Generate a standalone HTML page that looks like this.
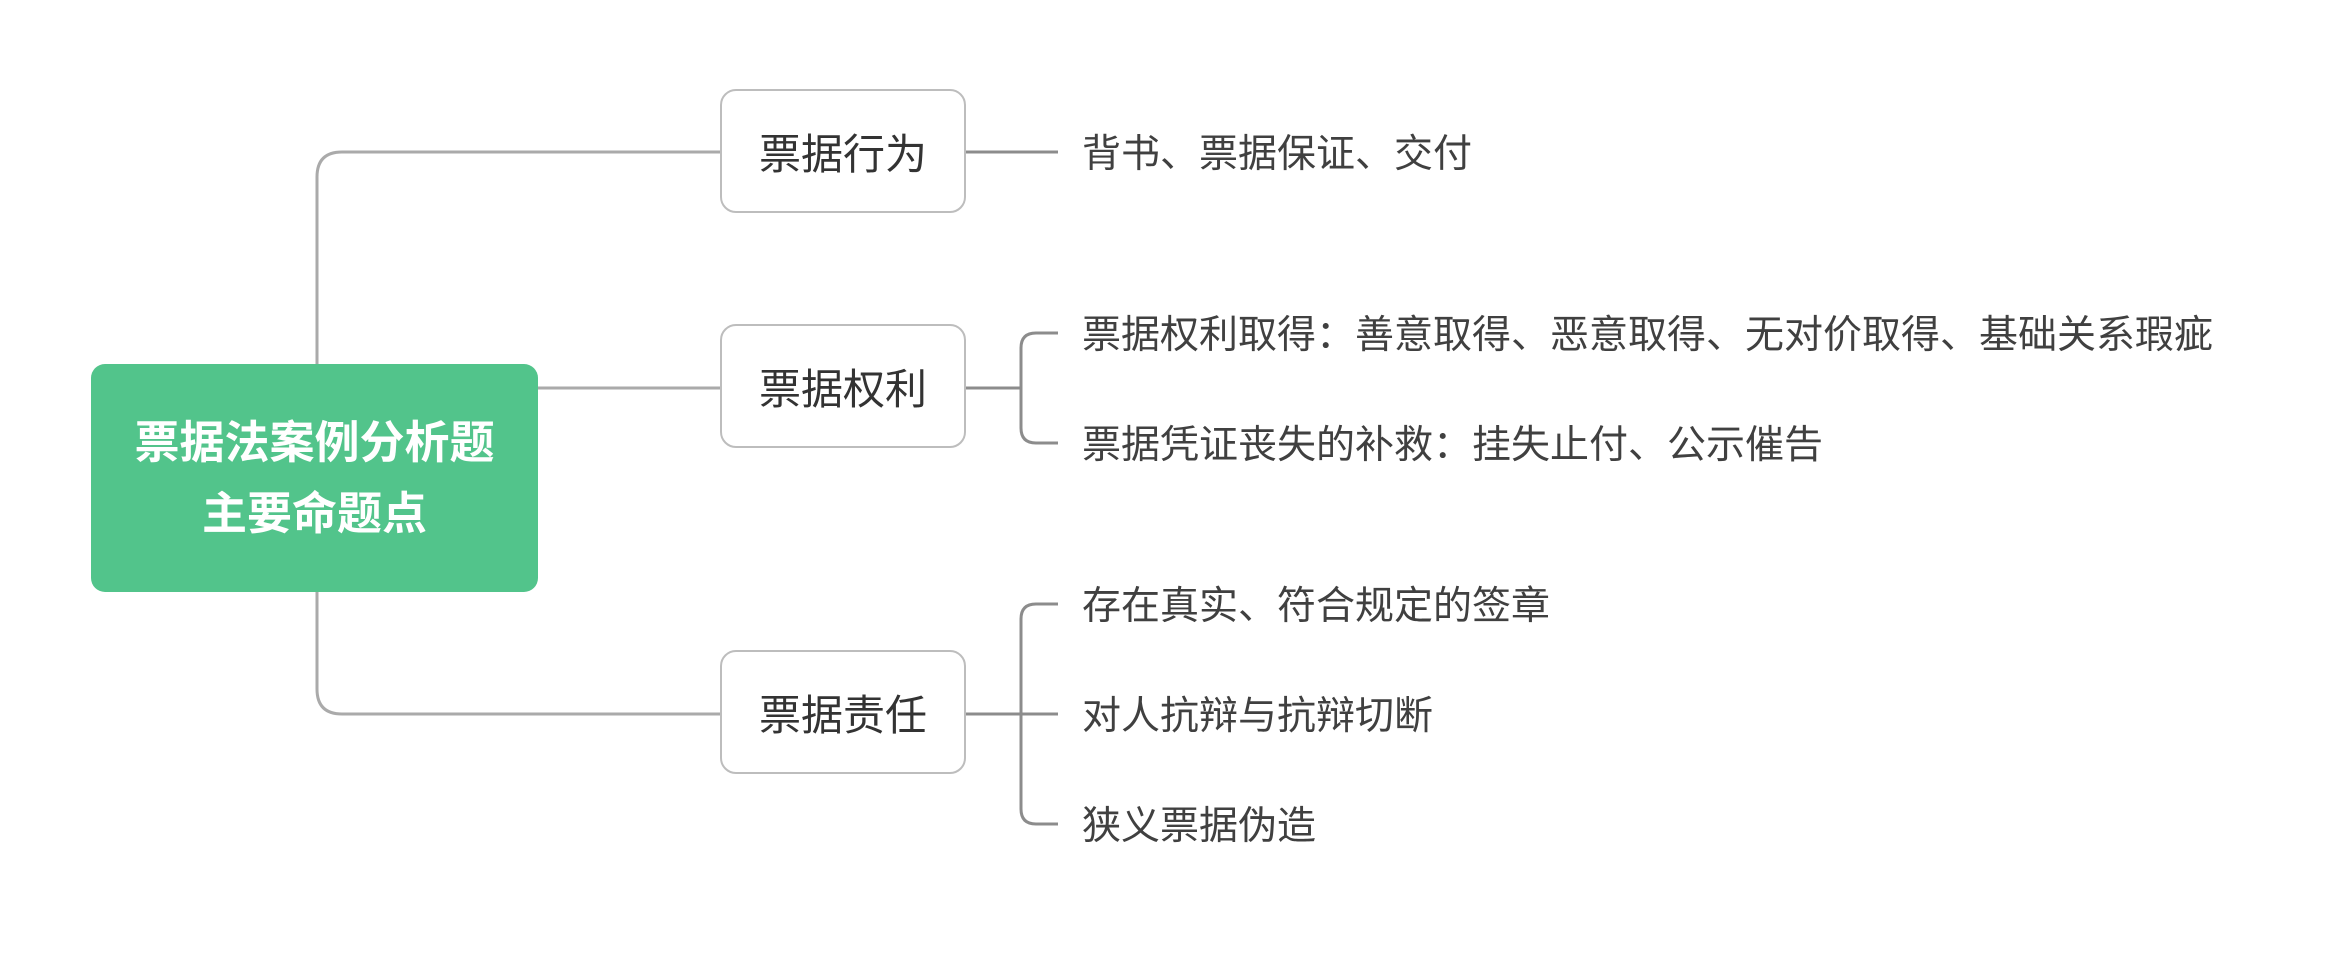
<!DOCTYPE html>
<html><head><meta charset="utf-8"><style>
html,body{margin:0;padding:0;background:#fff;}
body{width:2331px;height:954px;position:relative;overflow:hidden;font-family:"Liberation Sans","Noto Sans CJK SC",sans-serif;}
.root{position:absolute;left:91px;top:364px;width:447px;height:228px;background:#52c48b;border-radius:14px;color:#fff;font-weight:bold;font-size:45px;line-height:71px;text-align:center;display:flex;align-items:center;justify-content:center;}
.node{position:absolute;left:720px;width:242px;height:120px;border:2px solid #bdbdbd;border-radius:16px;background:#fff;font-size:42px;color:#333;display:flex;align-items:center;justify-content:center;}
.leaf{position:absolute;left:1082px;font-size:39px;color:#404040;white-space:nowrap;line-height:40px;}
</style></head><body>
<svg width="2331" height="954" style="position:absolute;left:0;top:0">
<g fill="none" stroke="#aaa" stroke-width="3">
<path d="M317 364 V177 Q317 152 342 152 H720"/>
<path d="M538 388 H720"/>
<path d="M317 592 V689 Q317 714 342 714 H720"/>
</g>
<g fill="none" stroke="#8c8c8c" stroke-width="3">
<path d="M966 152 H1058"/>
<path d="M966 388 H1021"/>
<path d="M1058 333 H1036 Q1021 333 1021 348 V428 Q1021 443 1036 443 H1058"/>
<path d="M966 714 H1058"/>
<path d="M1058 604 H1036 Q1021 604 1021 619 V809 Q1021 824 1036 824 H1058"/>
</g>
</svg>
<div class="root"><div>票据法案例分析题<br>主要命题点</div></div>
<div class="node" style="top:89px">票据行为</div>
<div class="node" style="top:324px">票据权利</div>
<div class="node" style="top:650px">票据责任</div>
<div class="leaf" style="top:135px">背书、票据保证、交付</div>
<div class="leaf" style="top:316px">票据权利取得：善意取得、恶意取得、无对价取得、基础关系瑕疵</div>
<div class="leaf" style="top:426px">票据凭证丧失的补救：挂失止付、公示催告</div>
<div class="leaf" style="top:587px">存在真实、符合规定的签章</div>
<div class="leaf" style="top:697px">对人抗辩与抗辩切断</div>
<div class="leaf" style="top:807px">狭义票据伪造</div>
</body></html>
